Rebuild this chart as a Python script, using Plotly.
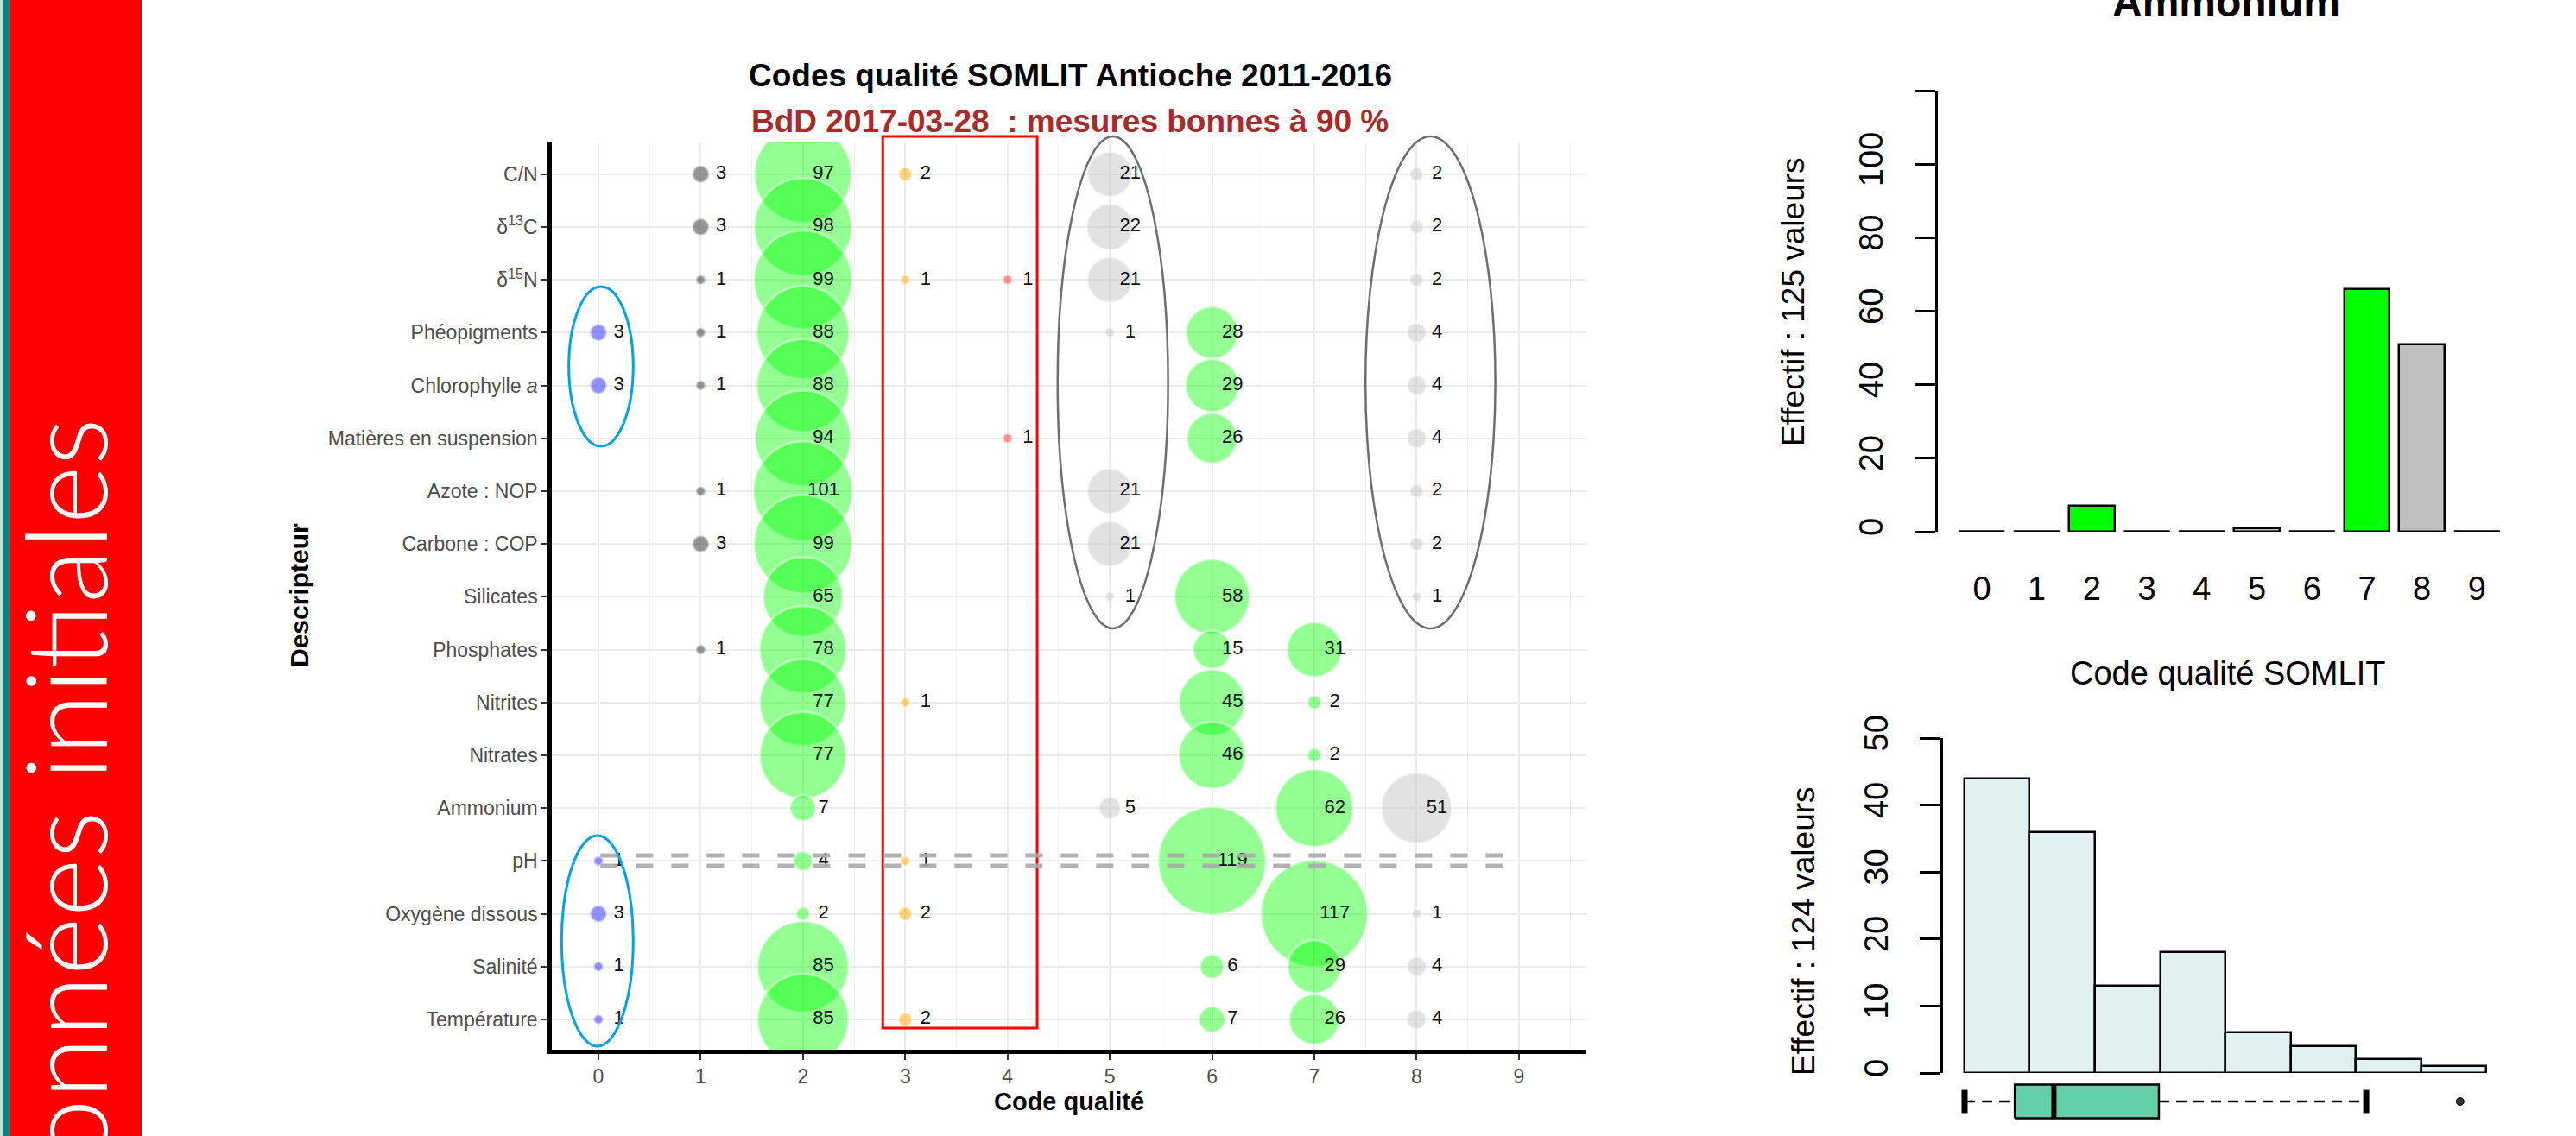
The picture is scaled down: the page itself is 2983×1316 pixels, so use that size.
import math
import plotly.graph_objects as go

W, H = 2983, 1316

# ---------------- data: bubble chart (counts per quality code 0..9) ----------------
codes = [0, 1, 2, 3, 4, 5, 6, 7, 8, 9]
descripteurs = ["C/N", "d13C", "d15N", "Phéopigments", "Chlorophylle a",
                "Matières en suspension", "Azote : NOP", "Carbone : COP", "Silicates",
                "Phosphates", "Nitrites", "Nitrates", "Ammonium", "pH",
                "Oxygène dissous", "Salinité", "Température"]
descripteur_labels = ["C/N", "δ<sup>13</sup>C", "δ<sup>15</sup>N", "Phéopigments",
                      "Chlorophylle <i>a</i>", "Matières en suspension", "Azote : NOP",
                      "Carbone : COP", "Silicates", "Phosphates", "Nitrites", "Nitrates",
                      "Ammonium", "pH", "Oxygène dissous", "Salinité", "Température"]
n_cn           = [0, 3, 97, 2, 0, 21, 0, 0, 2, 0]
n_d13c         = [0, 3, 98, 0, 0, 22, 0, 0, 2, 0]
n_d15n         = [0, 1, 99, 1, 1, 21, 0, 0, 2, 0]
n_pheo         = [3, 1, 88, 0, 0, 1, 28, 0, 4, 0]
n_chloro       = [3, 1, 88, 0, 0, 0, 29, 0, 4, 0]
n_mes          = [0, 0, 94, 0, 1, 0, 26, 0, 4, 0]
n_nop          = [0, 1, 101, 0, 0, 21, 0, 0, 2, 0]
n_cop          = [0, 3, 99, 0, 0, 21, 0, 0, 2, 0]
n_silicates    = [0, 0, 65, 0, 0, 1, 58, 0, 1, 0]
n_phosphates   = [0, 1, 78, 0, 0, 0, 15, 31, 0, 0]
n_nitrites     = [0, 0, 77, 1, 0, 0, 45, 2, 0, 0]
n_nitrates     = [0, 0, 77, 0, 0, 0, 46, 2, 0, 0]
n_ammonium     = [0, 0, 7, 0, 0, 5, 0, 62, 51, 0]
n_ph           = [1, 0, 4, 1, 0, 0, 119, 0, 0, 0]
n_oxygene      = [3, 0, 2, 2, 0, 0, 0, 117, 1, 0]
n_salinite     = [1, 0, 85, 0, 0, 0, 6, 29, 4, 0]
n_temperature  = [1, 0, 85, 2, 0, 0, 7, 26, 4, 0]
effectifs = [n_cn, n_d13c, n_d15n, n_pheo, n_chloro, n_mes, n_nop, n_cop, n_silicates,
             n_phosphates, n_nitrites, n_nitrates, n_ammonium, n_ph, n_oxygene,
             n_salinite, n_temperature]

# ---------------- data: Ammonium bar chart ----------------
ammonium_codes = [0, 1, 2, 3, 4, 5, 6, 7, 8, 9]
ammonium_effectifs = [0, 0, 7, 0, 0, 1, 0, 66, 51, 0]

# ---------------- data: histogram + boxplot (bin units) ----------------
hist_edges = [0, 1, 2, 3, 4, 5, 6, 7, 8]
hist_counts = [44, 36, 13, 18, 6, 4, 2, 1]
box_whisker_lo, box_q1, box_median, box_q3, box_whisker_hi = 0.0, 0.77, 1.37, 2.98, 6.16
box_outliers = [7.6]

# ---------------- styling ----------------
code_colors = {0: "rgba(60,60,255,0.80)", 1: "rgba(70,70,70,0.80)", 2: "rgba(0,255,0,0.60)",
               3: "rgba(255,170,0,0.72)", 4: "rgba(255,40,40,0.72)", 5: "rgba(190,190,190,0.62)",
               6: "rgba(0,255,0,0.60)", 7: "rgba(0,255,0,0.60)", 8: "rgba(190,190,190,0.62)",
               9: "rgba(190,190,190,0.62)"}
bar_colors = {2: "#00FF00", 7: "#00FF00", 5: "#BEBEBE", 8: "#BEBEBE"}
SIZE_K = 11.46
FONT = "Liberation Sans, Arial, sans-serif"
NARROW = "Liberation Sans Narrow, Arial Narrow, Liberation Sans, sans-serif"
RFS = 38  # font size used on the right-hand R panels


def fx(px):
    return px / W


def fy(py):
    return 1 - py / H


fig = go.Figure()

# ---------------- bubble chart ----------------
bx, by, bs, bc, bt = [], [], [], [], []
for name, counts in zip(descripteurs, effectifs):
    for code, n in zip(codes, counts):
        if n > 0:
            bx.append(code)
            by.append(name)
            bs.append(SIZE_K * math.sqrt(n))
            bc.append(code_colors[code])
            bt.append(str(n))

fig.add_trace(go.Scatter(
    x=bx, y=by, mode="markers", xaxis="x", yaxis="y",
    marker=dict(size=bs, sizemode="diameter", sizeref=1, color=bc,
                line=dict(color="rgba(255,255,255,0.55)", width=3)),
    hoverinfo="skip"))
fig.add_trace(go.Scatter(
    x=[v + 0.2 for v in bx], y=by, mode="text", text=bt, xaxis="x", yaxis="y",
    textfont=dict(family=FONT, size=22, color="#111111"), hoverinfo="skip"))

# ---------------- Ammonium bar chart ----------------
fig.add_trace(go.Bar(
    x=ammonium_codes, y=ammonium_effectifs, width=0.83, xaxis="x2", yaxis="y2",
    marker=dict(color=[bar_colors.get(c, "#FFFFFF") for c in ammonium_codes],
                line=dict(color="black", width=2.5)),
    hoverinfo="skip"))
zx, zy = [], []
for c, v in zip(ammonium_codes, ammonium_effectifs):
    if v == 0:
        zx += [c - 0.415, c + 0.415, None]
        zy += [0, 0, None]
fig.add_trace(go.Scatter(x=zx, y=zy, mode="lines", xaxis="x2", yaxis="y2",
                         line=dict(color="black", width=3), hoverinfo="skip"))

# ---------------- histogram ----------------
centers = [(hist_edges[i] + hist_edges[i + 1]) / 2 for i in range(len(hist_counts))]
widths = [hist_edges[i + 1] - hist_edges[i] for i in range(len(hist_counts))]
fig.add_trace(go.Bar(
    x=centers, y=hist_counts, width=widths, xaxis="x3", yaxis="y3",
    marker=dict(color="#E1F0F0", line=dict(color="black", width=2.5)),
    hoverinfo="skip"))

# ---------------- boxplot (below histogram) ----------------
b0, b1 = 0.094, 0.906
fig.add_trace(go.Scatter(
    x=[box_q1, box_q3, box_q3, box_q1, box_q1], y=[b0, b0, b1, b1, b0],
    mode="lines", fill="toself", fillcolor="#62CFA9",
    line=dict(color="black", width=2.5), xaxis="x3", yaxis="y4", hoverinfo="skip"))
fig.add_trace(go.Scatter(
    x=[box_median, box_median], y=[b0, b1], mode="lines",
    line=dict(color="black", width=6), xaxis="x3", yaxis="y4", hoverinfo="skip"))
fig.add_trace(go.Scatter(
    x=[box_whisker_lo, box_q1, None, box_q3, box_whisker_hi], y=[0.5, 0.5, None, 0.5, 0.5],
    mode="lines", line=dict(color="black", width=2.5, dash="12px,8px"),
    xaxis="x3", yaxis="y4", hoverinfo="skip"))
fig.add_trace(go.Scatter(
    x=[box_whisker_lo, box_whisker_lo, None, box_whisker_hi, box_whisker_hi],
    y=[0.22, 0.78, None, 0.22, 0.78], mode="lines",
    line=dict(color="black", width=7), xaxis="x3", yaxis="y4", hoverinfo="skip"))
fig.add_trace(go.Scatter(
    x=box_outliers, y=[0.5] * len(box_outliers), mode="markers",
    marker=dict(symbol="circle", size=9, color="#333333", line=dict(color="black", width=1)),
    xaxis="x3", yaxis="y4", hoverinfo="skip"))

# ---------------- axes ----------------
tick_font = dict(family=FONT, size=23, color="#4D4D4D")
layout_axes = dict(
    xaxis=dict(domain=[fx(639), fx(1837)], range=[-0.456, 9.66], anchor="y",
               tickmode="array", tickvals=codes, ticktext=[str(c) for c in codes],
               showgrid=True, gridcolor="#EBEBEB", gridwidth=1.5,
               minor=dict(tickmode="linear", tick0=0.5, dtick=1, showgrid=True,
                          gridcolor="#F2F2F2", gridwidth=1),
               zeroline=False, showline=True, linecolor="black", linewidth=4.5,
               ticks="outside", ticklen=7, tickwidth=2, tickcolor="#333333",
               tickfont=tick_font),
    yaxis=dict(domain=[fy(1216), fy(165)], type="category", categoryorder="array",
               categoryarray=descripteurs[::-1], range=[-0.572, 16.60], anchor="x",
               tickmode="array", tickvals=descripteurs, ticktext=descripteur_labels,
               showgrid=True, gridcolor="#EBEBEB", gridwidth=1.5, zeroline=False,
               showline=True, linecolor="black", linewidth=4.5,
               ticks="outside", ticklen=7, tickwidth=2, tickcolor="#333333",
               tickfont=tick_font),
    xaxis2=dict(domain=[fx(2244), fx(2920)], range=[-0.80, 9.81], anchor="y2",
                tickmode="array", tickvals=ammonium_codes,
                ticktext=[str(c) for c in ammonium_codes],
                showgrid=False, zeroline=False, showline=False,
                ticks="outside", ticklen=32, tickcolor="rgba(0,0,0,0)",
                tickfont=dict(family=NARROW, size=RFS, color="black")),
    yaxis2=dict(domain=[fy(616), fy(105)], range=[0, 120], anchor="x2",
                tickmode="array", tickvals=[0, 20, 40, 60, 80, 100, 120],
                ticktext=["0", "20", "40", "60", "80", "100", ""], tickangle=-90,
                showgrid=False, zeroline=False, showline=True, linecolor="black",
                linewidth=2.5, ticks="outside", ticklen=24, tickwidth=2.5,
                tickcolor="black", ticklabelstandoff=22,
                tickfont=dict(family=NARROW, size=RFS, color="black")),
    xaxis3=dict(domain=[fx(2250), fx(2900)], range=[-0.331, 8.278], anchor="y3",
                visible=False),
    yaxis3=dict(domain=[fy(1243), fy(855)], range=[0, 50], anchor="x3",
                tickmode="array", tickvals=[0, 10, 20, 30, 40, 50], tickangle=-90,
                showgrid=False, zeroline=False, showline=True, linecolor="black",
                linewidth=2.5, ticks="outside", ticklen=24, tickwidth=2.5,
                tickcolor="black", ticklabelstandoff=22,
                tickfont=dict(family=NARROW, size=RFS, color="black")),
    yaxis4=dict(domain=[fy(1300), fy(1252)], range=[0, 1], anchor="x3", visible=False),
)

# ---------------- annotation shapes ----------------
shapes = [
    # left banner
    dict(type="rect", xref="paper", yref="paper", x0=0, x1=fx(4), y0=0, y1=1,
         fillcolor="#C8DADF", line=dict(width=0), layer="below"),
    dict(type="rect", xref="paper", yref="paper", x0=fx(4), x1=fx(12), y0=0, y1=1,
         fillcolor="#00857C", line=dict(width=0), layer="below"),
    dict(type="rect", xref="paper", yref="paper", x0=fx(12), x1=fx(164), y0=0, y1=1,
         fillcolor="#FF0000", line=dict(width=0), layer="below"),
    # red rectangle around codes 3-4
    dict(type="rect", xref="x", yref="paper", x0=2.78, x1=4.29, y0=fy(1191), y1=fy(158),
         line=dict(color="#FF0000", width=3)),
    # grey ellipses around codes 5 and 8
    dict(type="circle", xref="x", yref="paper", x0=4.49, x1=5.57, y0=fy(728), y1=fy(158),
         line=dict(color="#6E6E6E", width=2.5)),
    dict(type="circle", xref="x", yref="paper", x0=7.50, x1=8.77, y0=fy(728), y1=fy(158),
         line=dict(color="#6E6E6E", width=2.5)),
    # blue ellipses around code 0
    dict(type="circle", xref="x", yref="paper", x0=-0.29, x1=0.34, y0=fy(517), y1=fy(332),
         line=dict(color="#00A2E8", width=3)),
    dict(type="circle", xref="x", yref="paper", x0=-0.36, x1=0.34, y0=fy(1212), y1=fy(968),
         line=dict(color="#00A2E8", width=3)),
    # double dashed line on pH row
    dict(type="line", xref="x", yref="paper", x0=0.02, x1=8.91, y0=fy(991), y1=fy(991),
         line=dict(color="rgba(170,170,170,0.9)", width=5, dash="20px,21px")),
    dict(type="line", xref="x", yref="paper", x0=0.02, x1=8.91, y0=fy(1003), y1=fy(1003),
         line=dict(color="rgba(170,170,170,0.9)", width=5, dash="20px,21px")),
]

annotations = [
    dict(text="Données initiales", xref="paper", yref="paper", x=fx(73), y=fy(483),
         xanchor="center", yanchor="top", textangle=-90, showarrow=False,
         font=dict(family="Lato, Open Sans, sans-serif", size=130, color="white", weight=300)),
    dict(text="<b>Codes qualité SOMLIT Antioche 2011-2016</b>", xref="paper", yref="paper",
         x=fx(1239), y=fy(87), xanchor="center", yanchor="middle", showarrow=False,
         font=dict(family=FONT, size=37, color="black")),
    dict(text="<b>BdD 2017-03-28  : mesures bonnes à 90 %</b>", xref="paper", yref="paper",
         x=fx(1239), y=fy(140), xanchor="center", yanchor="middle", showarrow=False,
         font=dict(family=FONT, size=37, color="#A82A2A")),
    dict(text="<b>Descripteur</b>", xref="paper", yref="paper", x=fx(346), y=fy(690),
         xanchor="center", yanchor="middle", textangle=-90, showarrow=False,
         font=dict(family=FONT, size=30, color="black")),
    dict(text="<b>Code qualité</b>", xref="paper", yref="paper", x=fx(1238), y=fy(1276),
         xanchor="center", yanchor="middle", showarrow=False,
         font=dict(family=FONT, size=29, color="black")),
    dict(text="<b>Ammonium</b>", xref="paper", yref="paper", x=fx(2578), y=fy(31),
         xanchor="center", yanchor="bottom", showarrow=False,
         font=dict(family=NARROW, size=48, color="black")),
    dict(text="Effectif : 125 valeurs", xref="paper", yref="paper", x=fx(2076), y=fy(350),
         xanchor="center", yanchor="middle", textangle=-90, showarrow=False,
         font=dict(family=NARROW, size=37, color="black")),
    dict(text="Code qualité SOMLIT", xref="paper", yref="paper", x=fx(2579), y=fy(780),
         xanchor="center", yanchor="middle", showarrow=False,
         font=dict(family=NARROW, size=38, color="black")),
    dict(text="Effectif : 124 valeurs", xref="paper", yref="paper", x=fx(2088), y=fy(1079),
         xanchor="center", yanchor="middle", textangle=-90, showarrow=False,
         font=dict(family=NARROW, size=37, color="black")),
]

fig.update_layout(
    width=W, height=H, margin=dict(l=0, r=0, t=0, b=0, autoexpand=False),
    paper_bgcolor="white", plot_bgcolor="white", showlegend=False,
    bargap=0, shapes=shapes, annotations=annotations,
    font=dict(family=FONT, color="black"),
    **layout_axes)

fig.write_html("out.html",
               config={"displayModeBar": False},
               post_script="document.body.style.margin='0px';document.body.style.padding='0px';"
                           "document.body.style.overflow='hidden';")
